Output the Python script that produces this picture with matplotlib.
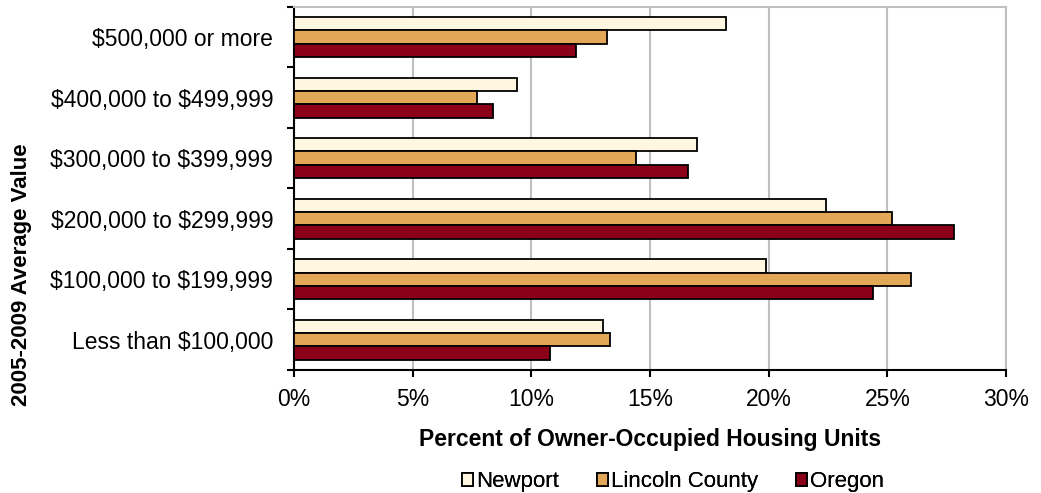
import numpy as np
import matplotlib.pyplot as plt
from matplotlib.ticker import FuncFormatter, MultipleLocator, FixedLocator

plt.rcParams['font.family'] = ['Liberation Sans', 'DejaVu Sans']

categories = ["Less than \\$100,000", "\\$100,000 to \\$199,999", "\\$200,000 to \\$299,999",
              "\\$300,000 to \\$399,999", "\\$400,000 to \\$499,999", "\\$500,000 or more"]
newport = [13.0, 19.9, 22.4, 17.0, 9.4, 18.2]
lincoln = [13.3, 26.0, 25.2, 14.4, 7.7, 13.2]
oregon = [10.8, 24.4, 27.8, 16.6, 8.4, 11.9]

series = [("Newport", newport, "#FFF7DF"),
          ("Lincoln County", lincoln, "#E3A857"),
          ("Oregon", oregon, "#8B0018")]

fig = plt.figure(figsize=(10.41, 4.93), dpi=100)
ax = fig.add_axes([0.2824, 0.2495, 0.684, 0.7365])

y = np.arange(len(categories))
h = 0.222
bars = []
for i, (name, vals, col) in enumerate(series):
    b = ax.barh(y + (1 - i) * h, vals, height=h, color=col, edgecolor="black",
                linewidth=1.3, label=name, zorder=3)
    bars.append(b)

ax.set_xlim(0, 30)
ax.set_ylim(-0.5, len(categories) - 0.5)
ax.xaxis.set_major_locator(MultipleLocator(5))
ax.xaxis.set_major_formatter(FuncFormatter(lambda v, p: f"{v:.0f}%"))
ax.grid(axis="x", color="#BFBFBF", linewidth=1.5, zorder=0)

ax.set_yticks(y)
ax.set_yticklabels(categories)
ax.yaxis.set_minor_locator(FixedLocator(np.arange(-0.5, len(categories), 1)))
ax.tick_params(axis="y", which="major", length=0, pad=15, labelsize=16.5)
ax.tick_params(axis="y", which="minor", length=5, width=1.5, direction="out")
ax.tick_params(axis="x", length=5, width=1.5, direction="out", labelsize=16.5, pad=8)

for s in ["top", "right"]:
    ax.spines[s].set_color("#BFBFBF")
    ax.spines[s].set_linewidth(1.5)
for s in ["left", "bottom"]:
    ax.spines[s].set_linewidth(1.5)

ax.set_xlabel("Percent of Owner-Occupied Housing Units", fontsize=16.5, fontweight="bold", labelpad=12)
fig.text(22 / 1041, 1 - 275 / 493, "2005-2009 Average Value", rotation=90, ha="center",
         va="center", fontsize=16, fontweight="bold")

# one legend per entry so they can be placed like the excel one
leg_x = [462, 597, 796]
for b, (name, vals, col), lx in zip(bars, series, leg_x):
    lg = fig.legend([b], [name], loc="center left", bbox_to_anchor=(lx / 1041, 1 - 482 / 493),
                    frameon=False, fontsize=16, handlelength=0.5, handleheight=0.5,
                    handletextpad=0.15, borderpad=0, borderaxespad=0)
    fig.add_artist(lg)

fig.savefig("out.png", dpi=100)
